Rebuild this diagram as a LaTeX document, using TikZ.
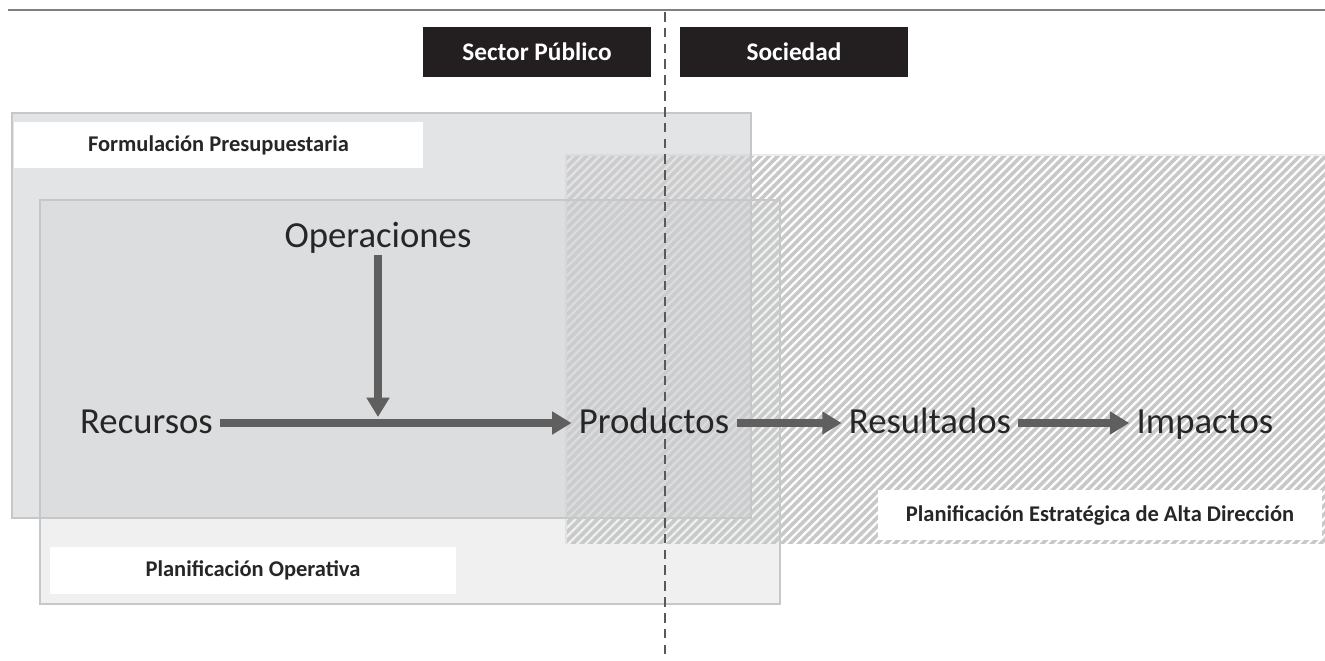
\documentclass[tikz,border=0pt]{standalone}
\usepackage{fontspec}
\setmainfont{Carlito}
\usetikzlibrary{positioning,calc,arrows.meta,patterns.meta}

\definecolor{boxline}{HTML}{C6C7C9}
\definecolor{budgetfill}{RGB}{207,208,210}
\definecolor{opfill}{RGB}{203,204,206}
\definecolor{headblack}{HTML}{231F20}
\definecolor{flowgray}{HTML}{5F5F5F}
\definecolor{hatchgray}{HTML}{C8C8C8}

\begin{document}
\begin{tikzpicture}[
    x=0.02cm, y=-0.02cm,
    stage/.style={font=\fontsize{20.9}{24}\selectfont, text=black!85, text height=12.5pt, text depth=0pt, inner sep=4pt},
    flow/.style={line width=4.5pt, draw=flowgray, -{Triangle[length=11pt,width=12.5pt]}},
    tag/.style={fill=white, font=\bfseries\fontsize{12.8}{15}\selectfont, text=black!85, inner sep=0pt},
    head/.style={fill=headblack, text=white, font=\bfseries\fontsize{14.4}{17}\selectfont, minimum width=4.56cm, minimum height=1cm, inner sep=0pt},
    area/.style={draw=boxline, line width=0.9pt}
]
    \useasboundingbox (0,0) rectangle (1325,660);

    % top rule and column heads
    \draw[gray, line width=0.8pt] (8,10) -- (1325,10);
    \node[head] (sector) at (537,52) {Sector Público};
    \node[head] (society) at (794,52) {Sociedad};

    % planning areas
    \fill[hatchgray] (566,155) rectangle (1325,544);
    \fill[pattern={Lines[angle=45,distance=3.5pt,line width=1.3pt]}, pattern color=white, fill opacity=0.8] (566,155) rectangle (1325,544);
    \draw[draw=white!85!gray, line width=0.8pt] (566,544) -- (566,155) -- (1325,155);
    \fill[budgetfill, fill opacity=0.575] (12,113) rectangle (751,518);
    \fill[opfill, fill opacity=0.29] (40,200) rectangle (780,604);
    \draw[area] (12,113) rectangle (751,518);
    \draw[area] (40,200) rectangle (780,604);

    \node[tag, minimum width=8.18cm, minimum height=0.92cm] (budget) at (218.5,145) {Formulación Presupuestaria};
    \node[tag, minimum width=8.12cm, minimum height=0.94cm] (opplan) at (253,570.5) {Planificación Operativa};
    \node[tag, minimum width=8.88cm, minimum height=1cm] (stratplan) at (1100,515) {Planificación Estratégica de Alta Dirección};

    % divider
    \draw[black!65, line width=0.8pt, dash pattern=on 5.5pt off 3.5pt] (665,12) -- (665,660);

    % chain
    \node[stage] (ops) at (378,237) {Operaciones};
    \node[stage] (res) at (146.5,423) {Recursos};
    \node[stage] (prod) at (654,423) {Productos};
    \node[stage] (outc) at (930,423) {Resultados};
    \node[stage] (imp) at (1205,423) {Impactos};
    \coordinate (opjoin) at (378,417);

    \draw[flow] (res) -- (prod);
    \draw[flow] (ops) -- (opjoin);
    \draw[flow] (prod) -- (outc);
    \draw[flow] (outc) -- (imp);
\end{tikzpicture}
\end{document}
